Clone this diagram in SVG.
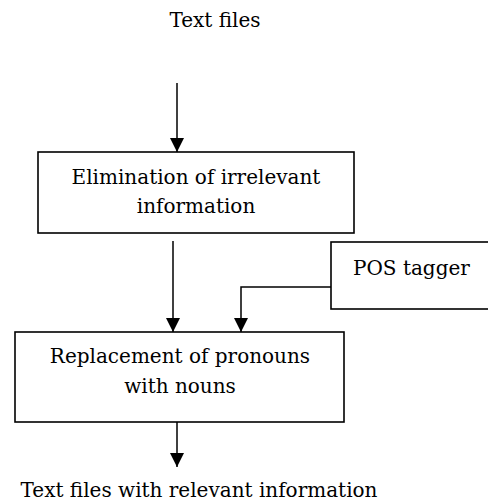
<svg xmlns="http://www.w3.org/2000/svg" width="488" height="504" viewBox="0 0 488 504">
<style>
.box{fill:#fff;stroke:#000;stroke-width:1.6}
text{font-family:'DejaVu Serif','Liberation Serif',serif;font-size:20px;fill:#000}
.c{text-anchor:middle}
.ln{fill:none;stroke:#000;stroke-width:1.5}
</style>
<defs>
<marker id="ah" markerUnits="userSpaceOnUse" markerWidth="14" markerHeight="14" refX="14" refY="7" orient="auto">
<path d="M0,0 L14,7 L0,14 z" fill="#000"/>
</marker>
</defs>
<g id="connectors">
<path class="ln" d="M177,83 V152" marker-end="url(#ah)"/>
<path class="ln" d="M173,241 V332" marker-end="url(#ah)"/>
<path class="ln" d="M331,287 H241 V332" marker-end="url(#ah)"/>
<path class="ln" d="M177,422 V467" marker-end="url(#ah)"/>
</g>
<g id="input">
<text class="c" x="215" y="27">Text files</text>
</g>
<g id="elimination">
<rect class="box" x="38" y="152" width="316" height="81"/>
<text class="c" x="196" y="184">Elimination of irrelevant</text>
<text class="c" x="196" y="213">information</text>
</g>
<g id="pos">
<rect class="box" x="331" y="242" width="170" height="67"/>
<text x="353" y="275">POS tagger</text>
</g>
<g id="replacement">
<rect class="box" x="15" y="332" width="329" height="90"/>
<text class="c" x="180" y="363">Replacement of pronouns</text>
<text class="c" x="180" y="393">with nouns</text>
</g>
<g id="output">
<text class="c" x="199" y="497">Text files with relevant information</text>
</g>
</svg>
